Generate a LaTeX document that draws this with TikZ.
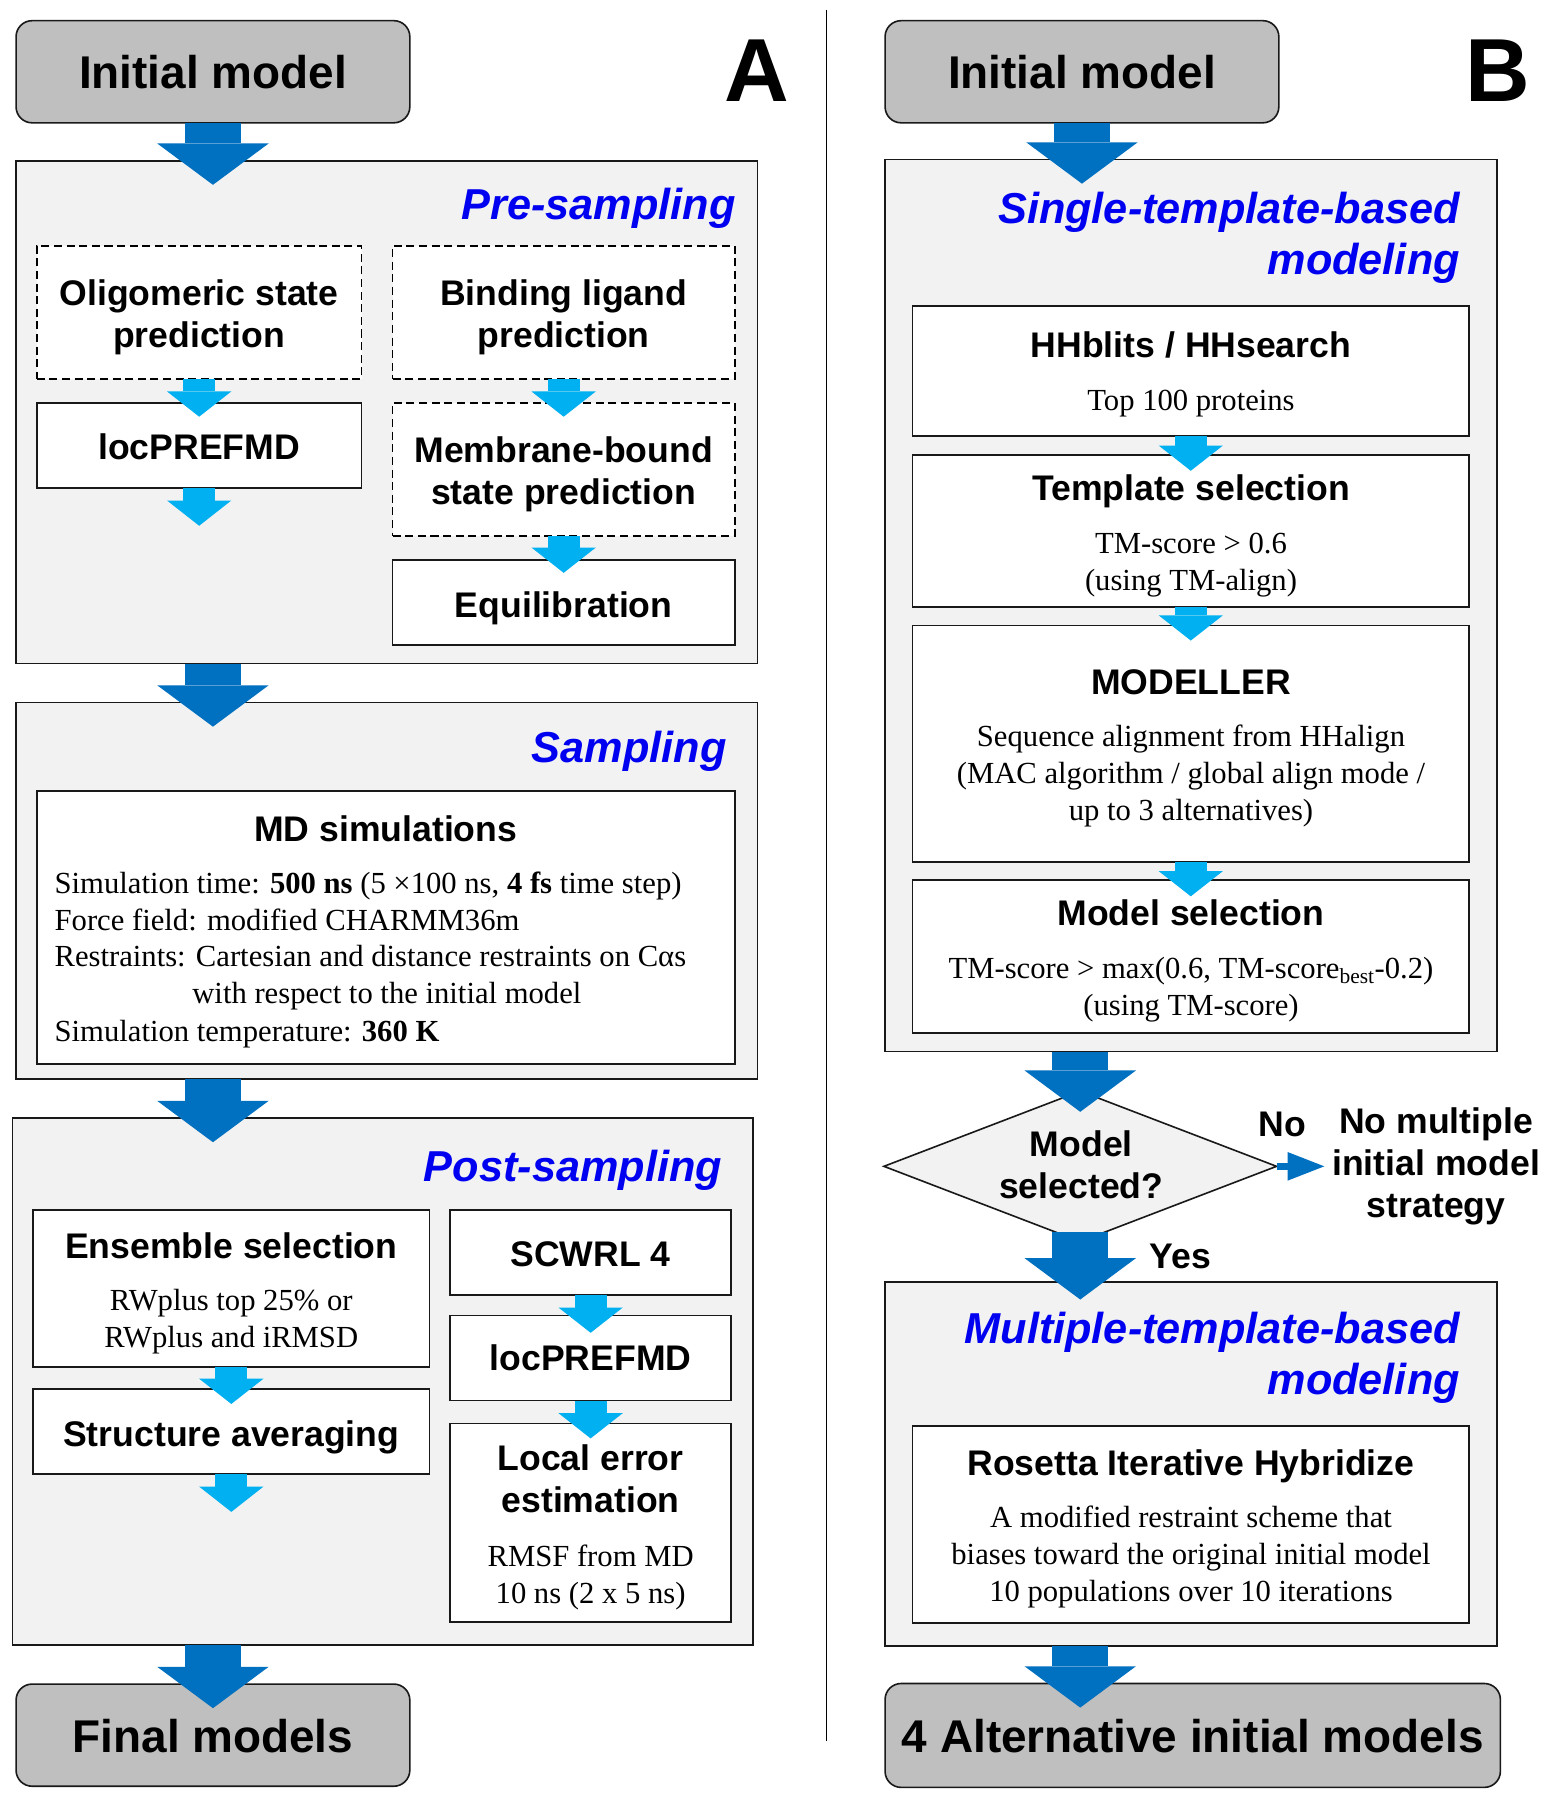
\documentclass[tikz,border=0pt]{standalone}
\usepackage{fontspec}
\setmainfont{Liberation Serif}
\newfontfamily\arialf{Liberation Sans}
\usetikzlibrary{arrows.meta,shapes.geometric,calc}
\definecolor{arrdark}{RGB}{0,112,192}
\definecolor{arrlight}{RGB}{0,176,240}
\definecolor{hdrblue}{RGB}{0,0,240}
\definecolor{panelgray}{RGB}{242,242,242}
\definecolor{termgray}{RGB}{191,191,191}
\definecolor{bordr}{RGB}{25,25,25}
\newcommand\fsz[2]{\fontsize{#1pt}{#2pt}\selectfont}
\newcommand\tlc[1]{\begin{tabular}[t]{@{}c@{}}#1\end{tabular}}
\newcommand\tlr[1]{\begin{tabular}[t]{@{}r@{}}#1\end{tabular}}
\newcommand\bx[6]{\node[#2, anchor=north west, minimum width={#5-#3}, minimum height={#6-#4}] (#1) at (#3,#4) {};}
\tikzset{
  panel/.style={draw=bordr, line width=1.4pt, fill=panelgray, inner sep=0pt, outer sep=0pt},
  term/.style={draw=bordr, line width=1.4pt, fill=termgray, rounded corners=14pt, inner sep=0pt, outer sep=0pt},
  sbox/.style={draw=bordr, line width=1.4pt, fill=white, inner sep=0pt, outer sep=0pt},
  dbox/.style={draw=black, line width=1.5pt, fill=white, dash pattern=on 7pt off 4pt, inner sep=0pt, outer sep=0pt},
  ttl/.style={font=\arialf\bfseries\fsz{31}{36.5}, anchor=base, inner sep=0pt, outer sep=0pt},
  body/.style={font=\fsz{26.7}{32.2}, anchor=base, inner sep=0pt, outer sep=0pt},
  hdr/.style={font=\arialf\bfseries\itshape\fsz{37.7}{44.5}, text=hdrblue, anchor=base east, inner sep=0pt, outer sep=0pt},
  termtxt/.style={font=\arialf\bfseries\fsz{40}{48}, anchor=base, inner sep=0pt, outer sep=0pt},
  panlab/.style={font=\arialf\bfseries\fsz{78}{90}, anchor=base, inner sep=0pt, outer sep=0pt},
  bigarr/.style={color=arrdark, line width=49pt, -{Triangle[width=97pt, length=36pt, line width=0pt]}},
  smarr/.style={color=arrlight, line width=28pt, -{Triangle[width=56pt, length=22pt, line width=0pt]}},
  noarr/.style={color=arrdark, line width=6pt, -{Triangle[width=25pt, length=32pt, line width=0pt]}},
}
\begin{document}
\begin{tikzpicture}[x=1pt,y=-1pt]
\useasboundingbox (0,0) rectangle (1347,1568);
\fill[white] (0,0) rectangle (1347,1568);

% divider
\draw[line width=1.6pt, black] (720,9) -- (720,1517);

% ---------------- Panel A ----------------
\bx{initA}{term}{14}{18}{357}{107}
\node[termtxt] (initAt) at (185.5,77) {Initial model};
\node[panlab] (labA) at (659,88.7) {A};

\bx{pre}{panel}{14}{140}{660}{578}
\node[hdr] (preh) at (641,191.4) {Pre-sampling};
\bx{olig}{dbox}{32}{214}{315}{330}
\node[ttl] (oligt) at (173.5,266.4) {\tlc{Oligomeric state\\prediction}};
\bx{bind}{dbox}{342}{214}{640}{330}
\node[ttl] (bindt) at (491,266.4) {\tlc{Binding ligand\\prediction}};
\bx{loc1}{sbox}{32}{351}{315}{425}
\node[ttl] (loc1t) at (173.5,400) {locPREFMD};
\bx{memb}{dbox}{342}{351}{640}{467}
\node[ttl] (membt) at (491,402.6) {\tlc{Membrane-bound\\state prediction}};
\bx{equil}{sbox}{342}{488}{640}{562}
\node[ttl] (equilt) at (491,537.6) {Equilibration};

\bx{samp}{panel}{14}{612}{660}{940}
\node[hdr] (samph) at (633,664) {Sampling};
\bx{md}{sbox}{32}{689}{640}{927}
\node[ttl] (mdt) at (336,733.4) {MD simulations};
\node[body, anchor=base west] (md1) at (47.6,778.4) {Simulation time: \textbf{500 ns} (5 ×100 ns, \textbf{4 fs} time step)};
\node[body, anchor=base west] (md2) at (47.6,810.3) {Force field: modified CHARMM36m};
\node[body, anchor=base west] (md3) at (47.6,842.3) {Restraints: Cartesian and distance restraints on Cαs};
\node[body] (md4) at (337,874.2) {with respect to the initial model};
\node[body, anchor=base west] (md5) at (47.6,907.6) {Simulation temperature: \textbf{360 K}};

\bx{post}{panel}{11}{974}{656}{1433}
\node[hdr] (posth) at (629,1029.6) {Post-sampling};
\bx{ens}{sbox}{29}{1054}{374}{1191}
\node[ttl] (enst) at (201.5,1096.5) {Ensemble selection};
\node[body] (ensb) at (201.5,1142) {\tlc{RWplus top 25\% or\\RWplus and iRMSD}};
\bx{savg}{sbox}{29}{1210}{374}{1284}
\node[ttl] (savgt) at (201.5,1260) {Structure averaging};
\bx{scwrl}{sbox}{392}{1054}{637}{1128}
\node[ttl] (scwrlt) at (514.5,1103) {SCWRL 4};
\bx{loc2}{sbox}{392}{1146}{637}{1220}
\node[ttl] (loc2t) at (514.5,1193.7) {locPREFMD};
\bx{lerr}{sbox}{392}{1240}{637}{1413}
\node[ttl] (lerrt) at (514.5,1281.3) {\tlc{Local error\\estimation}};
\node[body] (lerrb) at (514.5,1364.9) {\tlc{RMSF from MD\\10 ns (2 x 5 ns)}};

\bx{finalA}{term}{14}{1467}{357}{1556}
\node[termtxt] (finalAt) at (185.5,1527) {Final models};

% ---------------- Panel B ----------------
\bx{initB}{term}{771}{18}{1114}{107}
\node[termtxt] (initBt) at (942.5,76.7) {Initial model};
\node[panlab] (labB) at (1305,88.6) {B};

\bx{stb}{panel}{771}{139}{1304}{916}
\node[hdr] (stbh) at (1271.7,195) {\tlr{Single-template-based\\modeling}};
\bx{hh}{sbox}{795}{266.5}{1279.6}{379.6}
\node[ttl] (hht) at (1037.5,311.7) {HHblits / HHsearch};
\node[body] (hhb) at (1037.5,358) {Top 100 proteins};
\bx{tsel}{sbox}{795}{396.6}{1279.6}{528.6}
\node[ttl] (tselt) at (1037.5,435.7) {Template selection};
\node[body] (tselb) at (1037.5,481.9) {\tlc{TM-score > 0.6\\(using TM-align)}};
\bx{modl}{sbox}{795}{545}{1279.6}{750.8}
\node[ttl] (modlt) at (1037.5,605) {MODELLER};
\node[body] (modlb) at (1037.5,650.6) {\tlc{Sequence alignment from HHalign\\(MAC algorithm / global align mode /\\up to 3 alternatives)}};
\bx{msel}{sbox}{795}{766.8}{1279.6}{899.8}
\node[ttl] (mselt) at (1037.5,806) {Model selection};
\node[body] (mselb) at (1037.5,852.4) {\tlc{TM-score > max(0.6, TM-score\textsubscript{best}-0.2)\\(using TM-score)}};

\node[diamond, draw=bordr, line width=1.4pt, fill=panelgray, inner sep=0pt, outer sep=0pt,
      minimum width=342pt, minimum height=131pt, shape aspect=2.6] (dia) at (941,1016) {};
\node[ttl] (diat) at (941.9,1007.4) {\tlc{Model\\selected?}};
\node[ttl] (nolab) at (1117,990) {No};
\node[ttl] (nomult) at (1251,987.8) {\tlc{No multiple\\initial model\\strategy}};
\node[ttl] (yeslab) at (1028.3,1104.6) {Yes};

\bx{mult}{panel}{771}{1117}{1304}{1434}
\node[hdr] (multh) at (1271.7,1170) {\tlr{Multiple-template-based\\modeling}};
\bx{ros}{sbox}{795}{1242}{1279.6}{1414}
\node[ttl] (rost) at (1037.5,1285) {Rosetta Iterative Hybridize};
\node[body] (rosb) at (1037.5,1331) {\tlc{A modified restraint scheme that\\biases toward the original initial model\\10 populations over 10 iterations}};

\bx{finalB}{term}{771}{1466.5}{1307}{1557}
\node[termtxt] (finalBt) at (1039,1527) {4 Alternative initial models};

% ---------------- Arrows ----------------
\coordinate (loc1end) at ($(loc1.south)+(0,33)$);
\coordinate (savgend) at ($(savg.south)+(0,33)$);

\draw[bigarr] (initA.south) -- ($(initA.south |- pre.north)+(0,21)$);
\draw[bigarr] (pre.south -| initA.south) -- ($(initA.south |- samp.north)+(0,21)$);
\draw[bigarr] (samp.south -| initA.south) -- ($(initA.south |- post.north)+(0,21)$);
\draw[bigarr] (post.south -| initA.south) -- ($(initA.south |- finalA.north)+(0,21)$);

\draw[smarr] (olig.south) -- ($(loc1.north)+(0,12)$);
\draw[smarr] (loc1.south) -- (loc1end);
\draw[smarr] (bind.south) -- ($(memb.north)+(0,12)$);
\draw[smarr] (memb.south) -- ($(equil.north)+(0,11)$);
\draw[smarr] (ens.south) -- ($(savg.north)+(0,13)$);
\draw[smarr] (savg.south) -- (savgend);
\draw[smarr] (scwrl.south) -- ($(loc2.north)+(0,15)$);
\draw[smarr] (loc2.south) -- ($(lerr.north)+(0,13)$);

\draw[bigarr] (initB.south) -- ($(initB.south |- stb.north)+(0,21)$);
\draw[bigarr] (stb.south -| dia.north) -- ($(dia.north)+(0,18)$);
\draw[bigarr] ($(dia.south)+(0,-8)$) -- ($(dia.south |- mult.north)+(0,15)$);
\draw[bigarr] (mult.south -| dia.south) -- ($(dia.south |- finalB.north)+(0,21)$);

\draw[smarr] (hh.south) -- ($(tsel.north)+(0,13.5)$);
\draw[smarr] (tsel.south) -- ($(modl.north)+(0,13)$);
\draw[smarr] (modl.south) -- ($(msel.north)+(0,14)$);

\draw[noarr] (dia.east) -- ($(dia.east -| nomult.west)+(-7,0)$);
\end{tikzpicture}
\end{document}
